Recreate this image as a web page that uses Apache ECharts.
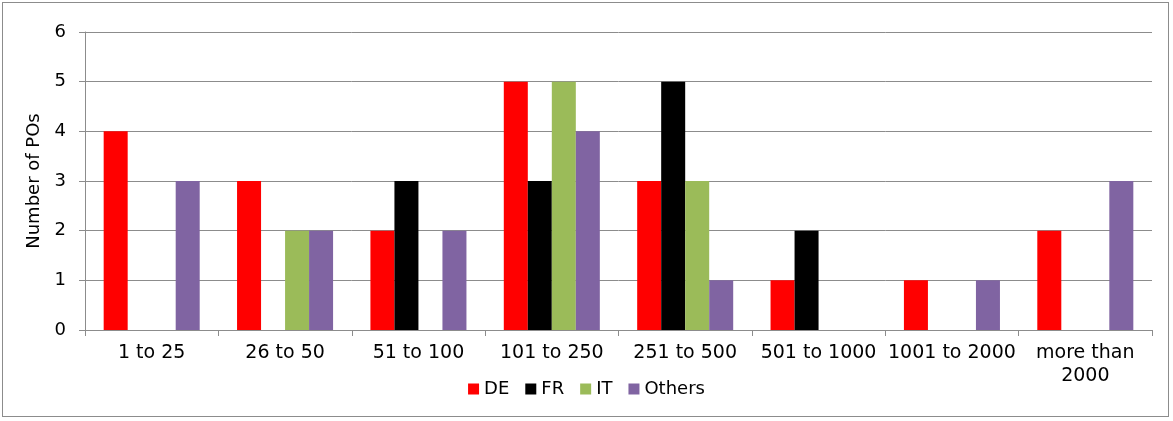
<!DOCTYPE html>
<html>
<head>
<meta charset="utf-8">
<script src="https://cdn.jsdelivr.net/npm/echarts@6/dist/echarts.min.js"></script>
<style>
  html, body { margin: 0; padding: 0; background: #fff; }
  #frame {
    position: absolute; left: 2px; top: 2px; width: 1167px; height: 415px;
    border: 1px solid #8c8c8c; box-sizing: border-box;
  }
  #chart { position: absolute; left: 0; top: 0; width: 1173px; height: 421px; }
</style>
</head>
<body>
<div id="frame"></div>
<div id="chart"></div>
<script>
const categories = ["1 to 25", "26 to 50", "51 to 100", "101 to 250", "251 to 500",
  "501 to 1000", "1001 to 2000", "more than\n2000"];
const deValues = [4, 3, 2, 5, 3, 1, 1, 2];
const frValues = [0, 0, 3, 3, 5, 2, 0, 0];
const itValues = [0, 2, 0, 5, 3, 0, 0, 0];
const othersValues = [3, 2, 2, 4, 1, 0, 1, 3];
const yTicks = [0, 1, 2, 3, 4, 5, 6];

const chart = echarts.init(document.getElementById("chart"));
const fontFamily = "DejaVu Sans";
const mkSeries = (name, data, color) => ({
  name: name,
  type: "bar",
  data: data,
  barGap: "0%",
  barCategoryGap: "28%",
  itemStyle: { color: color },
});

chart.setOption({
  animation: false,
  textStyle: { fontFamily: fontFamily },
  grid: { left: 85, right: 21, top: 32, bottom: 91 },
  legend: {
    bottom: 18,
    left: "center",
    itemWidth: 11,
    itemHeight: 11,
    itemGap: 16,
    icon: "rect",
    textStyle: { fontSize: 18, color: "#000", fontFamily: fontFamily },
    data: ["DE", "FR", "IT", "Others"],
  },
  xAxis: {
    type: "category",
    data: categories,
    axisLine: { lineStyle: { color: "#8c8c8c", width: 1 } },
    axisTick: { show: true, length: 6, lineStyle: { color: "#8c8c8c" } },
    axisLabel: {
      interval: 0,
      fontSize: 19,
      color: "#000",
      margin: 12,
      lineHeight: 23,
      fontFamily: fontFamily,
    },
  },
  yAxis: {
    type: "value",
    min: yTicks[0],
    max: yTicks[yTicks.length - 1],
    interval: 1,
    name: "Number of POs",
    nameLocation: "middle",
    nameGap: 38,
    nameTextStyle: { fontSize: 18, color: "#000", fontFamily: fontFamily },
    axisLine: { show: true, lineStyle: { color: "#8c8c8c" } },
    axisTick: { show: true, length: 6, lineStyle: { color: "#8c8c8c" } },
    axisLabel: { fontSize: 18, color: "#000", margin: 19, fontFamily: fontFamily },
    splitLine: { lineStyle: { color: "#8c8c8c", width: 1 } },
  },
  series: [
    mkSeries("DE", deValues, "#ff0000"),
    mkSeries("FR", frValues, "#000000"),
    mkSeries("IT", itValues, "#9bbb59"),
    mkSeries("Others", othersValues, "#8064a2"),
  ],
});
</script>
</body>
</html>
